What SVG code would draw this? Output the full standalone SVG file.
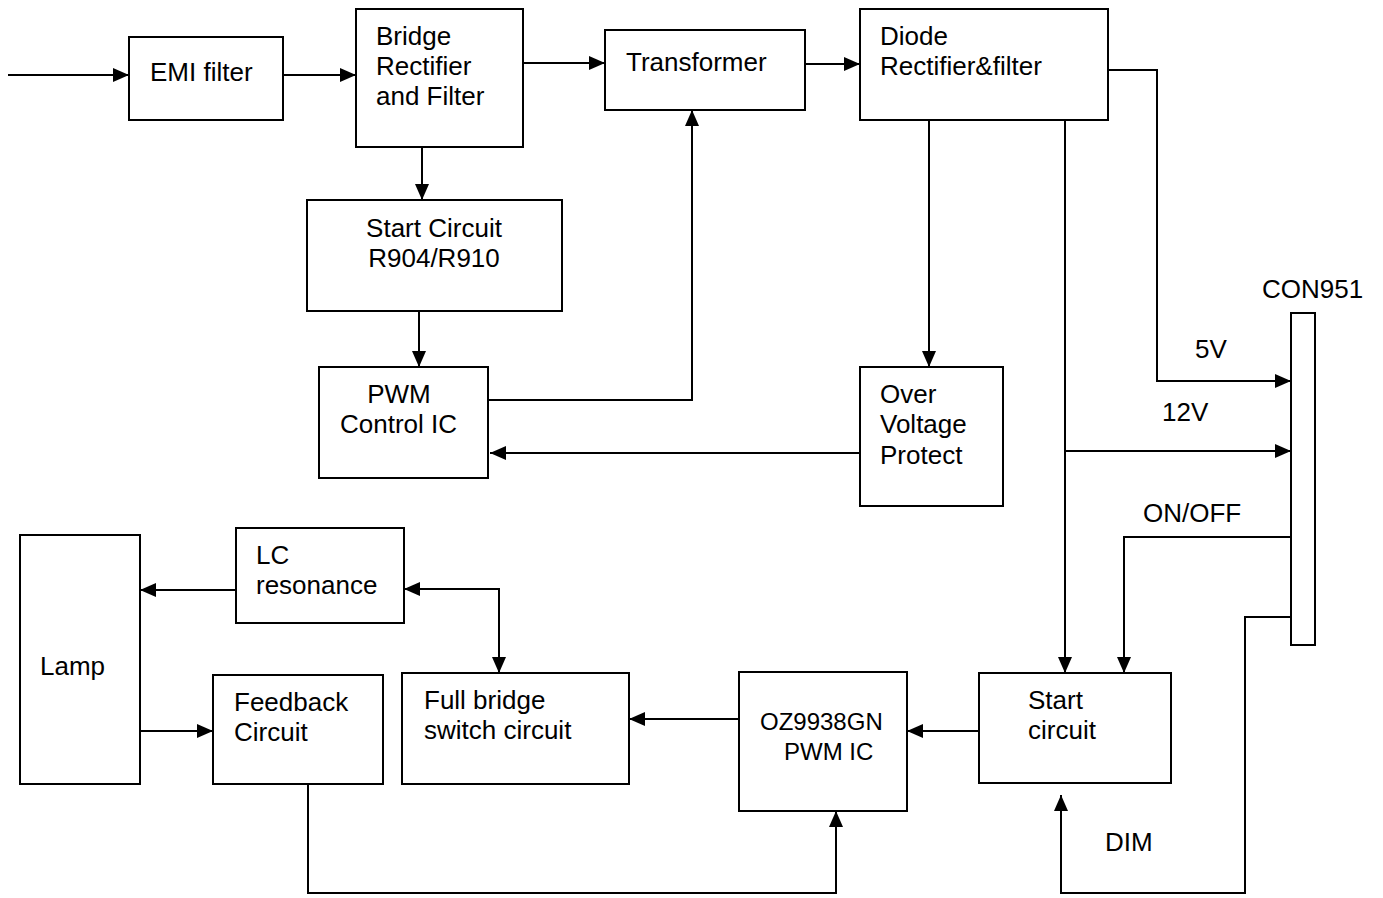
<svg xmlns="http://www.w3.org/2000/svg" width="1383" height="898" viewBox="0 0 1383 898">
<style>
.box{fill:#fff;stroke:#000;stroke-width:2}
.t{font-family:"Liberation Sans",Arial,sans-serif;font-size:26px;fill:#000}
.s{font-size:24px}
.c{fill:none;stroke:#000;stroke-width:2}
</style>
<defs>
<marker id="a" markerUnits="userSpaceOnUse" markerWidth="18" markerHeight="14" refX="16" refY="7" orient="auto-start-reverse"><path d="M0,0 L16,7 L0,14 z" fill="#000"/></marker>
</defs>
<rect width="1383" height="898" fill="#fff"/>
<g id="connectors">
<path class="c" d="M8,75 H129" marker-end="url(#a)"/>
<path class="c" d="M283,75 H356" marker-end="url(#a)"/>
<path class="c" d="M523,63 H605" marker-end="url(#a)"/>
<path class="c" d="M805,64 H860" marker-end="url(#a)"/>
<path class="c" d="M422,147 V200" marker-end="url(#a)"/>
<path class="c" d="M419,311 V367" marker-end="url(#a)"/>
<path class="c" d="M488,400 H692 V110" marker-end="url(#a)"/>
<path class="c" d="M929,120 V367" marker-end="url(#a)"/>
<path class="c" d="M860,453 H490" marker-end="url(#a)"/>
<path class="c" d="M1108,70 H1157 V381 H1291" marker-end="url(#a)"/>
<path class="c" d="M1065,120 V673" marker-end="url(#a)"/>
<path class="c" d="M1065,451 H1291" marker-end="url(#a)"/>
<path class="c" d="M1291,537 H1124 V673" marker-end="url(#a)"/>
<path class="c" d="M1291,617 H1245 V893 H1061 V795" marker-end="url(#a)"/>
<path class="c" d="M979,731 H907" marker-end="url(#a)"/>
<path class="c" d="M739,719 H629" marker-end="url(#a)"/>
<path class="c" d="M404,589 H499 V673" marker-start="url(#a)" marker-end="url(#a)"/>
<path class="c" d="M236,590 H140" marker-end="url(#a)"/>
<path class="c" d="M140,731 H213" marker-end="url(#a)"/>
<path class="c" d="M308,784 V893 H836 V811" marker-end="url(#a)"/>
</g>
<g id="emi"><rect class="box" x="129" y="37" width="154" height="83"/><text class="t" x="150" y="81">EMI filter</text></g>
<g id="bridge"><rect class="box" x="356" y="9" width="167" height="138"/><text class="t" x="376" y="45">Bridge</text><text class="t" x="376" y="75">Rectifier</text><text class="t" x="376" y="105">and Filter</text></g>
<g id="transformer"><rect class="box" x="605" y="30" width="200" height="80"/><text class="t" x="626" y="71">Transformer</text></g>
<g id="diode"><rect class="box" x="860" y="9" width="248" height="111"/><text class="t" x="880" y="45">Diode</text><text class="t" x="880" y="75">Rectifier&amp;filter</text></g>
<g id="startR"><rect class="box" x="307" y="200" width="255" height="111"/><text class="t" x="434" y="237" text-anchor="middle">Start Circuit</text><text class="t" x="434" y="267" text-anchor="middle">R904/R910</text></g>
<g id="pwmctl"><rect class="box" x="319" y="367" width="169" height="111"/><text class="t" x="399" y="403" text-anchor="middle">PWM</text><text class="t" x="340" y="433">Control IC</text></g>
<g id="ovp"><rect class="box" x="860" y="367" width="143" height="139"/><text class="t" x="880" y="403">Over</text><text class="t" x="880" y="433">Voltage</text><text class="t" x="880" y="464">Protect</text></g>
<g id="con951"><rect class="box" x="1291" y="313" width="24" height="332"/><text class="t" x="1262" y="298">CON951</text></g>
<g id="labels"><text class="t" x="1195" y="358">5V</text><text class="t" x="1162" y="421">12V</text><text class="t" x="1143" y="522">ON/OFF</text><text class="t" x="1105" y="851">DIM</text></g>
<g id="startc"><rect class="box" x="979" y="673" width="192" height="110"/><text class="t" x="1028" y="709">Start</text><text class="t" x="1028" y="739">circuit</text></g>
<g id="oz"><rect class="box" x="739" y="672" width="168" height="139"/><text class="t s" x="760" y="730">OZ9938GN</text><text class="t s" x="784" y="760">PWM IC</text></g>
<g id="fullbridge"><rect class="box" x="402" y="673" width="227" height="111"/><text class="t" x="424" y="709">Full bridge</text><text class="t" x="424" y="739">switch circuit</text></g>
<g id="lc"><rect class="box" x="236" y="528" width="168" height="95"/><text class="t" x="256" y="564">LC</text><text class="t" x="256" y="594">resonance</text></g>
<g id="lamp"><rect class="box" x="20" y="535" width="120" height="249"/><text class="t" x="40" y="675">Lamp</text></g>
<g id="feedback"><rect class="box" x="213" y="675" width="170" height="109"/><text class="t" x="234" y="711">Feedback</text><text class="t" x="234" y="741">Circuit</text></g>
</svg>
